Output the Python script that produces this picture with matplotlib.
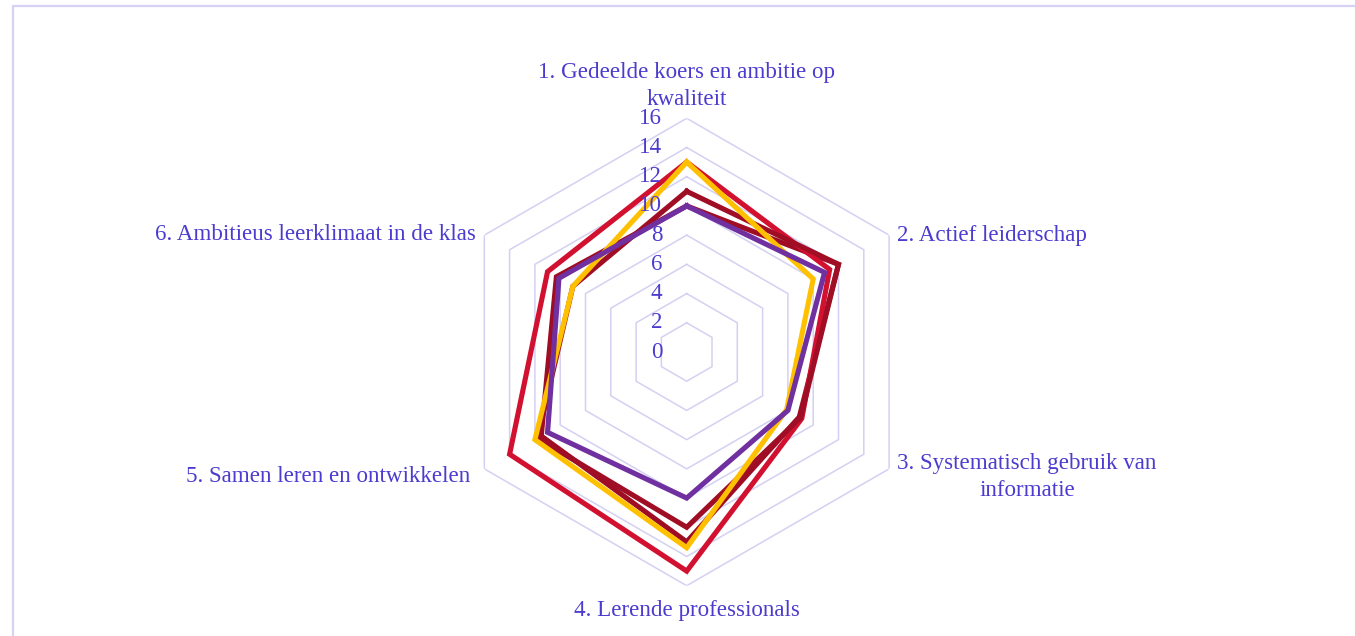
import numpy as np
import matplotlib
matplotlib.use("Agg")
import matplotlib.pyplot as plt
from matplotlib.patches import Rectangle

categories = [
    "1. Gedeelde koers en ambitie op\nkwaliteit",
    "2. Actief leiderschap",
    "3. Systematisch gebruik van\ninformatie",
    "4. Lerende professionals",
    "5. Samen leren en ontwikkelen",
    "6. Ambitieus leerklimaat in de klas",
]
ticks = [0, 2, 4, 6, 8, 10, 12, 14, 16]

series_darkred_a = [10.0, 12.0, 8.9, 13.0, 11.5, 10.3]
series_crimson = [13.0, 11.3, 9.1, 15.0, 14.0, 11.0]
series_darkred_b = [11.0, 12.0, 9.0, 12.0, 11.8, 9.0]
series_yellow = [13.0, 10.0, 7.9, 13.4, 12.0, 9.0]
series_purple = [10.0, 10.9, 8.0, 10.0, 11.0, 10.1]

series = [
    (series_darkred_a, "#9E0D24"),
    (series_crimson, "#D2102F"),
    (series_darkred_b, "#A00E25"),
    (series_yellow, "#FFC000"),
    (series_purple, "#7030A0"),
]

text_color = "#4B3CCF"
grid_color = "#D4D0F2"
font = "Liberation Serif"
fs = 16.6

W, H = 1355, 636
fig = plt.figure(figsize=(W / 100, H / 100), dpi=100)
fig.patch.set_facecolor("white")

# outer frame
fig.add_artist(Rectangle((13 / W, -0.1), 1.2, (636 - 6) / H + 0.1, transform=fig.transFigure,
                         fill=False, edgecolor="#D6D2F4", linewidth=1.6))

cx, cy, R = 686.7, 352.0, 233.7
ax = fig.add_axes([(cx - R) / W, (H - cy - R) / H, 2 * R / W, 2 * R / H], projection="polar")
ax.set_theta_zero_location("N")
ax.set_theta_direction(-1)
ax.set_ylim(0, 16)
ax.grid(False)
ax.spines["polar"].set_visible(False)
ax.set_xticks([])
ax.set_yticks([])
ax.patch.set_alpha(0)

n = len(categories)
theta = np.arange(n) * 2 * np.pi / n
theta_c = np.append(theta, theta[0])

for t in ticks[1:]:
    ax.plot(theta_c, [t] * (n + 1), color=grid_color, lw=1.1, zorder=1, solid_joinstyle="miter")

for vals, col in series:
    v = list(vals) + [vals[0]]
    ax.plot(theta_c, v, color=col, lw=3.7, zorder=3, solid_joinstyle="miter")

for t in ticks:
    ax.annotate(str(t), xy=(0, t), xytext=(-17.5, 0), textcoords="offset points",
                ha="right", va="center", color=text_color, fontsize=fs, family=font, zorder=5)

offsets = [(0, 6), (6, 0), (6, -6), (0, -10), (-10, -5.5), (-6, 0.5)]
aligns = [("center", "bottom"), ("left", "center"), ("left", "center"),
          ("center", "top"), ("right", "center"), ("right", "center")]
for i, lab in enumerate(categories):
    ha, va = aligns[i]
    ax.annotate(lab, xy=(theta[i], 16), xytext=offsets[i], textcoords="offset points",
                ha=ha, va=va, color=text_color, fontsize=fs, family=font,
                multialignment="center", linespacing=1.38)

fig.savefig("out.png", dpi=100)
